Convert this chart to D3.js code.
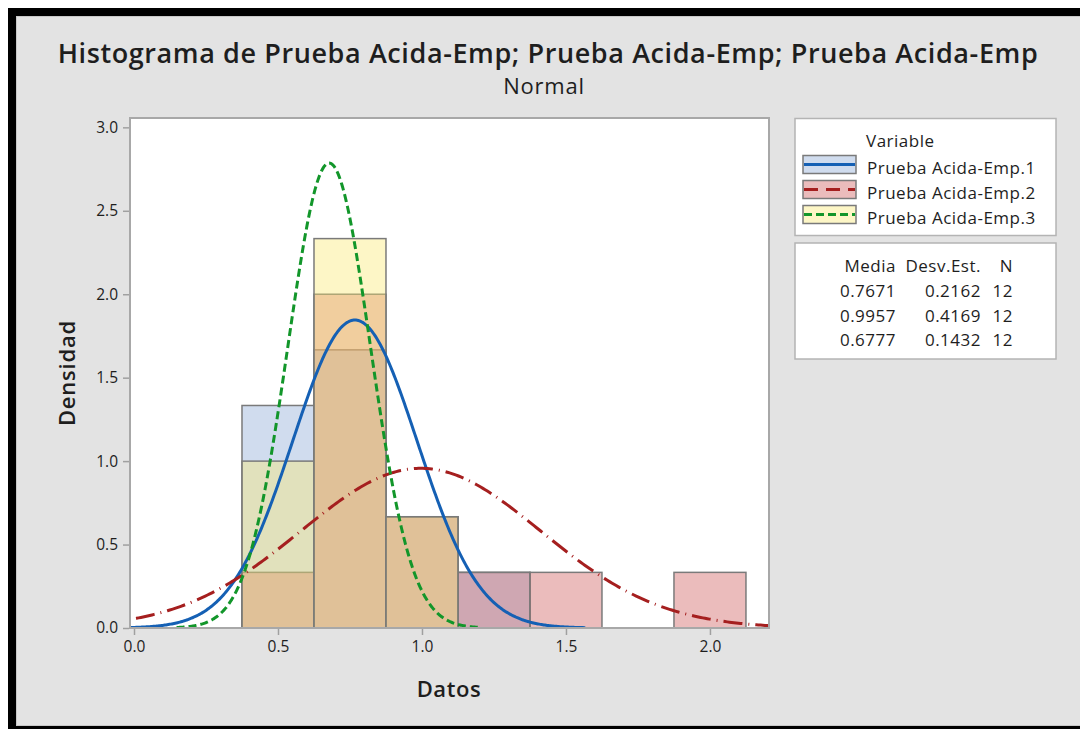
<!DOCTYPE html>
<html>
<head>
<meta charset="utf-8">
<script src="https://cdn.jsdelivr.net/npm/d3@7"></script>
<style>
  html, body { margin: 0; padding: 0; background: #ffffff; }
  svg { display: block; font-family: "Open Sans", "Noto Sans", sans-serif; }
</style>
</head>
<body>
<svg id="chart" width="1080" height="729"></svg>
<script>
// ---- data ----
const seriesNames = ["Prueba Acida-Emp.1", "Prueba Acida-Emp.2", "Prueba Acida-Emp.3"];
const binCenters = [0.5, 0.75, 1.0, 1.25, 1.5, 1.75, 2.0];
const binWidth = 0.25;
const counts1 = [4, 5, 2, 1, 0, 0, 0];
const counts2 = [1, 6, 2, 1, 1, 0, 1];
const counts3 = [3, 7, 2, 0, 0, 0, 0];
const means = [0.7671, 0.9957, 0.6777];
const stdevs = [0.2162, 0.4169, 0.1432];
const sizes = [12, 12, 12];
const xTicks = [0.0, 0.5, 1.0, 1.5, 2.0];
const yTicks = [0.0, 0.5, 1.0, 1.5, 2.0, 2.5, 3.0];

// ---- styles ----
const fillColors = ["#89a7d4", "#cd5858", "#fae871"];
const lineColors = ["#1560b4", "#a51f1f", "#12962a"];
const dashes = [null, "19,6,1,6", "8,4"];
const fillAlpha = 0.4;
const ink = "#1e1e1e";

const svg = d3.select("#chart");
const W = 1080, H = 729;

// page background and frame
svg.append("rect").attr("x", 0).attr("y", 0).attr("width", W).attr("height", H).attr("fill", "#ffffff");
svg.append("rect").attr("x", 8).attr("y", 8).attr("width", W - 8).attr("height", H - 8).attr("fill", "#000000");
svg.append("rect").attr("x", 16).attr("y", 16).attr("width", W - 16).attr("height", H - 16 - 3).attr("fill", "#c8c8c8");
svg.append("rect").attr("x", 17).attr("y", 17).attr("width", W - 17).attr("height", H - 17 - 4).attr("fill", "#e3e3e3");

// plot area
const P = { left: 130, right: 769, top: 118, bottom: 628 };
const x = d3.scaleLinear().domain([-0.0139, 2.205]).range([P.left, P.right]);
const y = d3.scaleLinear().domain([0, 3.056]).range([P.bottom, P.top]);

svg.append("rect")
  .attr("x", P.left).attr("y", P.top)
  .attr("width", P.right - P.left).attr("height", P.bottom - P.top)
  .attr("fill", "#ffffff");

svg.append("defs").append("clipPath").attr("id", "plotClip")
  .append("rect")
  .attr("x", P.left).attr("y", P.top)
  .attr("width", P.right - P.left).attr("height", P.bottom - P.top);

const plot = svg.append("g").attr("clip-path", "url(#plotClip)");

// histogram bars (density scale)
const allCounts = [counts1, counts2, counts3];
allCounts.forEach((counts, s) => {
  const dens = binCenters.map((c, i) => ({ c, d: counts[i] / (sizes[s] * binWidth) }))
    .filter(b => b.d > 0);
  plot.append("g").selectAll("rect").data(dens).join("rect")
    .attr("x", b => x(b.c - binWidth / 2))
    .attr("y", b => y(b.d))
    .attr("width", b => x(b.c + binWidth / 2) - x(b.c - binWidth / 2))
    .attr("height", b => y(0) - y(b.d))
    .attr("fill", fillColors[s])
    .attr("fill-opacity", fillAlpha)
    .attr("stroke", "#7a7a7a")
    .attr("stroke-width", 1.5);
});

// fitted normal curves
const pdf = (v, m, sd) => Math.exp(-0.5 * ((v - m) / sd) ** 2) / (sd * Math.sqrt(2 * Math.PI));
const line = d3.line().x(p => x(p[0])).y(p => y(p[1]));
means.forEach((m, s) => {
  const sd = stdevs[s];
  const lo = m - 3.7 * sd, hi = m + 3.7 * sd;
  const pts = d3.range(0, 401).map(i => {
    const v = lo + (hi - lo) * i / 400;
    return [v, pdf(v, m, sd)];
  });
  plot.append("path")
    .attr("d", line(pts))
    .attr("fill", "none")
    .attr("stroke", lineColors[s])
    .attr("stroke-width", 3)
    .attr("stroke-dasharray", dashes[s]);
});

// plot frame
svg.append("rect")
  .attr("x", P.left).attr("y", P.top)
  .attr("width", P.right - P.left).attr("height", P.bottom - P.top)
  .attr("fill", "none").attr("stroke", "#a8a8a8").attr("stroke-width", 2);

// axes
const xAxis = d3.axisBottom(x).tickValues(xTicks).tickFormat(d3.format(".1f")).tickSize(6).tickPadding(6);
const yAxis = d3.axisLeft(y).tickValues(yTicks).tickFormat(d3.format(".1f")).tickSize(6).tickPadding(5);

const gx = svg.append("g").attr("transform", `translate(0,${P.bottom + 1})`).call(xAxis);
const gy = svg.append("g").attr("transform", `translate(${P.left - 1},0)`).call(yAxis);
[gx, gy].forEach(g => {
  g.select(".domain").remove();
  g.selectAll(".tick line").attr("stroke", "#a0a0a0").attr("stroke-width", 1.5);
  g.selectAll(".tick text").attr("fill", ink).style("font-size", "15.5px")
    .style("font-family", "'Open Sans', sans-serif");
});

// titles
svg.append("text").attr("x", 548).attr("y", 63).attr("text-anchor", "middle")
  .style("font-size", "27px").style("font-weight", 600).style("letter-spacing", "0.6px").attr("fill", ink)
  .text("Histograma de Prueba Acida-Emp; Prueba Acida-Emp; Prueba Acida-Emp");
svg.append("text").attr("x", 544).attr("y", 94).attr("text-anchor", "middle")
  .style("font-size", "22px").style("letter-spacing", "0.8px").attr("fill", ink).text("Normal");
svg.append("text").attr("x", 449).attr("y", 697).attr("text-anchor", "middle")
  .style("font-size", "22px").style("font-weight", 600).style("letter-spacing", "0.6px").attr("fill", ink).text("Datos");
svg.append("text").attr("transform", "translate(75,373) rotate(-90)").attr("text-anchor", "middle")
  .style("font-size", "22px").style("font-weight", 600).style("letter-spacing", "0.8px").attr("fill", ink).text("Densidad");

// legend: variables
const lfs = "17px", lls = "0.5px";
const lg = svg.append("g");
lg.append("rect").attr("x", 795).attr("y", 118.5).attr("width", 261).attr("height", 117)
  .attr("fill", "#ffffff").attr("stroke", "#b4b4b4").attr("stroke-width", 1.5);
lg.append("text").attr("x", 866).attr("y", 147).style("font-size", lfs).style("letter-spacing", lls)
  .attr("fill", ink).text("Variable");
seriesNames.forEach((name, s) => {
  const cy = 164.5 + s * 25;
  lg.append("rect").attr("x", 803).attr("y", cy - 9).attr("width", 53).attr("height", 18)
    .attr("fill", fillColors[s]).attr("fill-opacity", fillAlpha)
    .attr("stroke", "#7a7a7a").attr("stroke-width", 1.5);
  lg.append("line").attr("x1", 804).attr("x2", 855).attr("y1", cy).attr("y2", cy)
    .attr("stroke", lineColors[s]).attr("stroke-width", 3)
    .attr("stroke-dasharray", s === 1 ? "14,8" : dashes[s]);
  lg.append("text").attr("x", 867).attr("y", cy + 9).style("font-size", lfs).style("letter-spacing", lls)
    .attr("fill", ink).text(name);
});

// legend: statistics table
const st = svg.append("g");
st.append("rect").attr("x", 795).attr("y", 243).attr("width", 261).attr("height", 116)
  .attr("fill", "#ffffff").attr("stroke", "#b4b4b4").attr("stroke-width", 1.5);
const colRight = [896, 981, 1013];
["Media", "Desv.Est.", "N"].forEach((h, i) => {
  st.append("text").attr("x", colRight[i]).attr("y", 272).attr("text-anchor", "end")
    .style("font-size", lfs).style("letter-spacing", lls).attr("fill", ink).text(h);
});
means.forEach((m, s) => {
  const by = 297 + s * 24.5;
  [m.toFixed(4), stdevs[s].toFixed(4), String(sizes[s])].forEach((v, i) => {
    st.append("text").attr("x", colRight[i]).attr("y", by).attr("text-anchor", "end")
      .style("font-size", lfs).style("letter-spacing", lls).attr("fill", ink).text(v);
  });
});
</script>
</body>
</html>
